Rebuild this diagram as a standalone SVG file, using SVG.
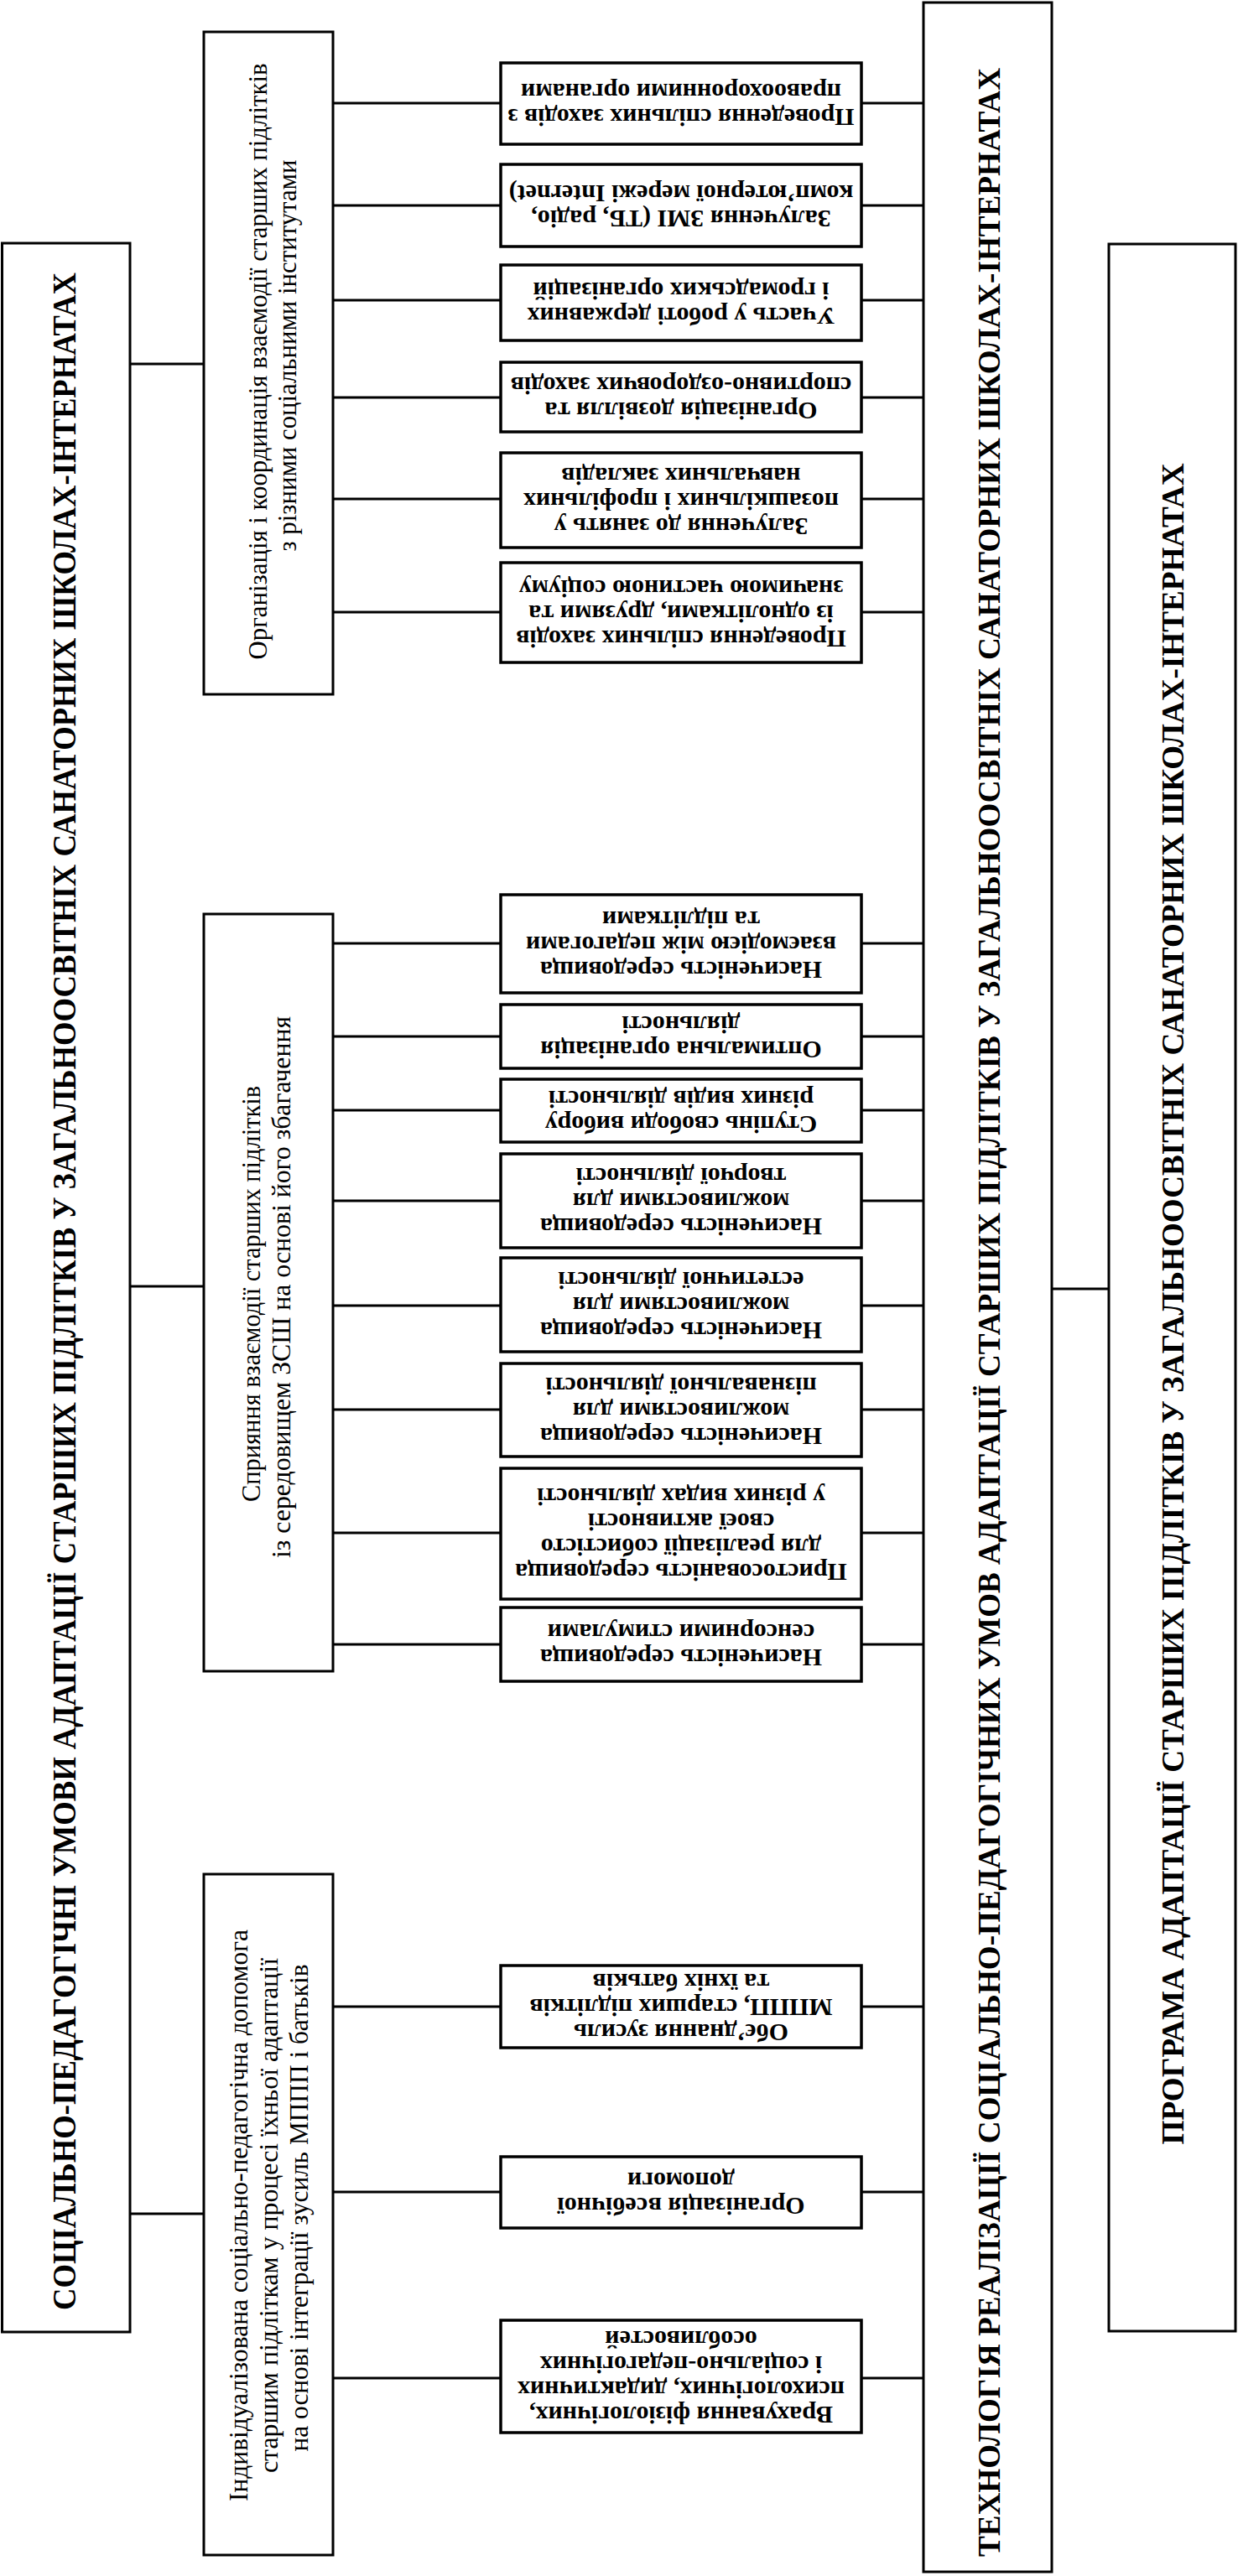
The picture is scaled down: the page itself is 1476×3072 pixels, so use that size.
<svg xmlns="http://www.w3.org/2000/svg" width="1476" height="3072" viewBox="0 0 1476 3072">
<style>
.bx{fill:#fff;stroke:#000;stroke-width:3.5}
.bb{fill:#fff;stroke:#000;stroke-width:3}
.cn{stroke:#000;stroke-width:3;fill:none}
.m{font-family:"Liberation Serif","Times New Roman",serif;font-weight:bold;font-size:30px;text-anchor:middle;fill:#000}
.c2{font-family:"Liberation Serif","Times New Roman",serif;font-size:32px;text-anchor:middle;fill:#000}
.big{font-family:"Liberation Serif","Times New Roman",serif;font-weight:bold;text-anchor:middle;fill:#000}
</style>
<rect width="1476" height="3072" fill="#fff"/>
<g id="connectors">
<path class="cn" d="M155 434H243M155 1534H243M155 2640H243"/>
<path class="cn" d="M397 123H597M397 245H597M397 358H597M397 474H597M397 595H597M397 730H597"/>
<path class="cn" d="M397 1125H597M397 1236H597M397 1324H597M397 1432H597M397 1557H597M397 1681H597M397 1828H597M397 1961H597"/>
<path class="cn" d="M397 2393H597M397 2614H597M397 2836H597"/>
<path class="cn" d="M1027 123H1101M1027 245H1101M1027 358H1101M1027 474H1101M1027 595H1101M1027 730H1101"/>
<path class="cn" d="M1027 1125H1101M1027 1236H1101M1027 1324H1101M1027 1432H1101M1027 1557H1101M1027 1681H1101M1027 1828H1101M1027 1961H1101"/>
<path class="cn" d="M1027 2393H1101M1027 2614H1101M1027 2836H1101"/>
<path class="cn" d="M1254 1537H1322"/>
</g>
<g id="n-conditions">
<rect class="bb" x="2.5" y="290" width="152.5" height="2491"/>
<text class="big" font-size="41" transform="translate(90,1540) rotate(-90)" textLength="2430" lengthAdjust="spacingAndGlyphs">СОЦІАЛЬНО-ПЕДАГОГІЧНІ УМОВИ АДАПТАЦІЇ СТАРШИХ ПІДЛІТКІВ У ЗАГАЛЬНООСВІТНІХ САНАТОРНИХ ШКОЛАХ-ІНТЕРНАТАХ</text>
</g>
<g id="n-technology">
<rect class="bb" x="1101" y="3" width="153" height="3064"/>
<text class="big" font-size="37" transform="translate(1192,1565) rotate(-90)" textLength="2968" lengthAdjust="spacingAndGlyphs">ТЕХНОЛОГІЯ  РЕАЛІЗАЦІЇ СОЦІАЛЬНО-ПЕДАГОГІЧНИХ УМОВ АДАПТАЦІЇ СТАРШИХ ПІДЛІТКІВ У ЗАГАЛЬНООСВІТНІХ САНАТОРНИХ ШКОЛАХ-ІНТЕРНАТАХ</text>
</g>
<g id="n-program">
<rect class="bb" x="1322" y="291" width="151" height="2489"/>
<text class="big" font-size="38" transform="translate(1411,1555) rotate(-90)" textLength="2005" lengthAdjust="spacingAndGlyphs">ПРОГРАМА АДАПТАЦІЇ СТАРШИХ ПІДЛІТКІВ У ЗАГАЛЬНООСВІТНІХ САНАТОРНИХ ШКОЛАХ-ІНТЕРНАТАХ</text>
</g>
<g id="n-cond1">
<rect class="bb" x="243" y="38" width="154" height="790"/>
<text class="c2" transform="translate(318,431) rotate(-90)" textLength="711" lengthAdjust="spacingAndGlyphs">Організація і координація взаємодії старших підлітків</text>
<text class="c2" transform="translate(353,424) rotate(-90)" textLength="467" lengthAdjust="spacingAndGlyphs">з різними соціальними інститутами</text>
</g>
<g id="n-cond2">
<rect class="bb" x="243" y="1090" width="154" height="903"/>
<text class="c2" transform="translate(310,1543) rotate(-90)" textLength="496" lengthAdjust="spacingAndGlyphs">Сприяння взаємодії старших підлітків</text>
<text class="c2" transform="translate(346,1535) rotate(-90)" textLength="646" lengthAdjust="spacingAndGlyphs">із середовищем ЗСШ на основі його збагачення</text>
</g>
<g id="n-cond3">
<rect class="bb" x="243" y="2235" width="154" height="812"/>
<text class="c2" transform="translate(295,2642) rotate(-90)" textLength="682" lengthAdjust="spacingAndGlyphs">Індивідуалізована соціально-педагогічна допомога</text>
<text class="c2" transform="translate(331,2642) rotate(-90)" textLength="614" lengthAdjust="spacingAndGlyphs">старшим підліткам у процесі їхньої адаптації</text>
<text class="c2" transform="translate(367,2633) rotate(-90)" textLength="581" lengthAdjust="spacingAndGlyphs">на основі інтеграції зусиль МППП і батьків</text>
</g>
<g id="n-1-1"><rect class="bx" x="597" y="75" width="430" height="97"/>
<text class="m" transform="rotate(180 812 123.5)"><tspan x="812" y="117.5">Проведення спільних заходів з</tspan><tspan x="812" y="147.5">правоохоронними органами</tspan></text></g>
<g id="n-1-2"><rect class="bx" x="597" y="196" width="430" height="98"/>
<text class="m" transform="rotate(180 812 245)"><tspan x="812" y="239">Залучення ЗМІ (ТБ, радіо,</tspan><tspan x="812" y="269">комп’ютерної мережі Internet)</tspan></text></g>
<g id="n-1-3"><rect class="bx" x="597" y="316" width="430" height="90"/>
<text class="m" transform="rotate(180 812 361)"><tspan x="812" y="355">Участь у роботі державних</tspan><tspan x="812" y="385">і громадських організацій</tspan></text></g>
<g id="n-1-4"><rect class="bx" x="597" y="432" width="430" height="83"/>
<text class="m" transform="rotate(180 812 473.5)"><tspan x="812" y="467.5">Організація дозвілля та</tspan><tspan x="812" y="497.5">спортивно-оздоровчих заходів</tspan></text></g>
<g id="n-1-5"><rect class="bx" x="597" y="540" width="430" height="113"/>
<text class="m" transform="rotate(180 812 596.5)"><tspan x="812" y="575.5">Залучення до занять у</tspan><tspan x="812" y="605.5">позашкільних і профільних</tspan><tspan x="812" y="635.5">навчальних закладів</tspan></text></g>
<g id="n-1-6"><rect class="bx" x="597" y="671" width="430" height="119"/>
<text class="m" transform="rotate(180 812 730.5)"><tspan x="812" y="709.5">Проведення спільних заходів</tspan><tspan x="812" y="739.5">із однолітками, друзями та</tspan><tspan x="812" y="769.5">значимою частиною соціуму</tspan></text></g>
<g id="n-2-1"><rect class="bx" x="597" y="1067" width="430" height="117"/>
<text class="m" transform="rotate(180 812 1125.5)"><tspan x="812" y="1104.5">Насиченість середовища</tspan><tspan x="812" y="1134.5">взаємодією між педагогами</tspan><tspan x="812" y="1164.5">та підлітками</tspan></text></g>
<g id="n-2-2"><rect class="bx" x="597" y="1198" width="430" height="76"/>
<text class="m" transform="rotate(180 812 1236)"><tspan x="812" y="1230">Оптимальна організація</tspan><tspan x="812" y="1260">діяльності</tspan></text></g>
<g id="n-2-3"><rect class="bx" x="597" y="1287" width="430" height="75"/>
<text class="m" transform="rotate(180 812 1324.5)"><tspan x="812" y="1318.5">Ступінь свободи вибору</tspan><tspan x="812" y="1348.5">різних видів діяльності</tspan></text></g>
<g id="n-2-4"><rect class="bx" x="597" y="1376" width="430" height="112"/>
<text class="m" transform="rotate(180 812 1432)"><tspan x="812" y="1411">Насиченість середовища</tspan><tspan x="812" y="1441">можливостями для</tspan><tspan x="812" y="1471">творчої діяльності</tspan></text></g>
<g id="n-2-5"><rect class="bx" x="597" y="1500" width="430" height="112"/>
<text class="m" transform="rotate(180 812 1556)"><tspan x="812" y="1535">Насиченість середовища</tspan><tspan x="812" y="1565">можливостями для</tspan><tspan x="812" y="1595">естетичної діяльності</tspan></text></g>
<g id="n-2-6"><rect class="bx" x="597" y="1626" width="430" height="111"/>
<text class="m" transform="rotate(180 812 1681.5)"><tspan x="812" y="1660.5">Насиченість середовища</tspan><tspan x="812" y="1690.5">можливостями для</tspan><tspan x="812" y="1720.5">пізнавальної діяльності</tspan></text></g>
<g id="n-2-7"><rect class="bx" x="597" y="1751" width="430" height="156"/>
<text class="m" transform="rotate(180 812 1829)"><tspan x="812" y="1793">Пристосованість середовища</tspan><tspan x="812" y="1823">для реалізації собистісто</tspan><tspan x="812" y="1853">своєї активності</tspan><tspan x="812" y="1883">у різних видах діяльності</tspan></text></g>
<g id="n-2-8"><rect class="bx" x="597" y="1917" width="430" height="88"/>
<text class="m" transform="rotate(180 812 1961)"><tspan x="812" y="1955">Насиченість середовища</tspan><tspan x="812" y="1985">сенсорними стимулами</tspan></text></g>
<g id="n-3-1"><rect class="bx" x="597" y="2344" width="430" height="98"/>
<text class="m" transform="rotate(180 812 2393)"><tspan x="812" y="2372">Обє’днання зусиль</tspan><tspan x="812" y="2402">МППП, старших підлітків</tspan><tspan x="812" y="2432">та їхніх батьків</tspan></text></g>
<g id="n-3-2"><rect class="bx" x="597" y="2572" width="430" height="85"/>
<text class="m" transform="rotate(180 812 2614.5)"><tspan x="812" y="2608.5">Організація всебічної</tspan><tspan x="812" y="2638.5">допомоги</tspan></text></g>
<g id="n-3-3"><rect class="bx" x="597" y="2767" width="430" height="134"/>
<text class="m" transform="rotate(180 812 2834)"><tspan x="812" y="2798">Врахування фізіологічних,</tspan><tspan x="812" y="2828">психологічних, дидактичних</tspan><tspan x="812" y="2858">і соціально-педагогічних</tspan><tspan x="812" y="2888">особливостей</tspan></text></g>
</svg>
